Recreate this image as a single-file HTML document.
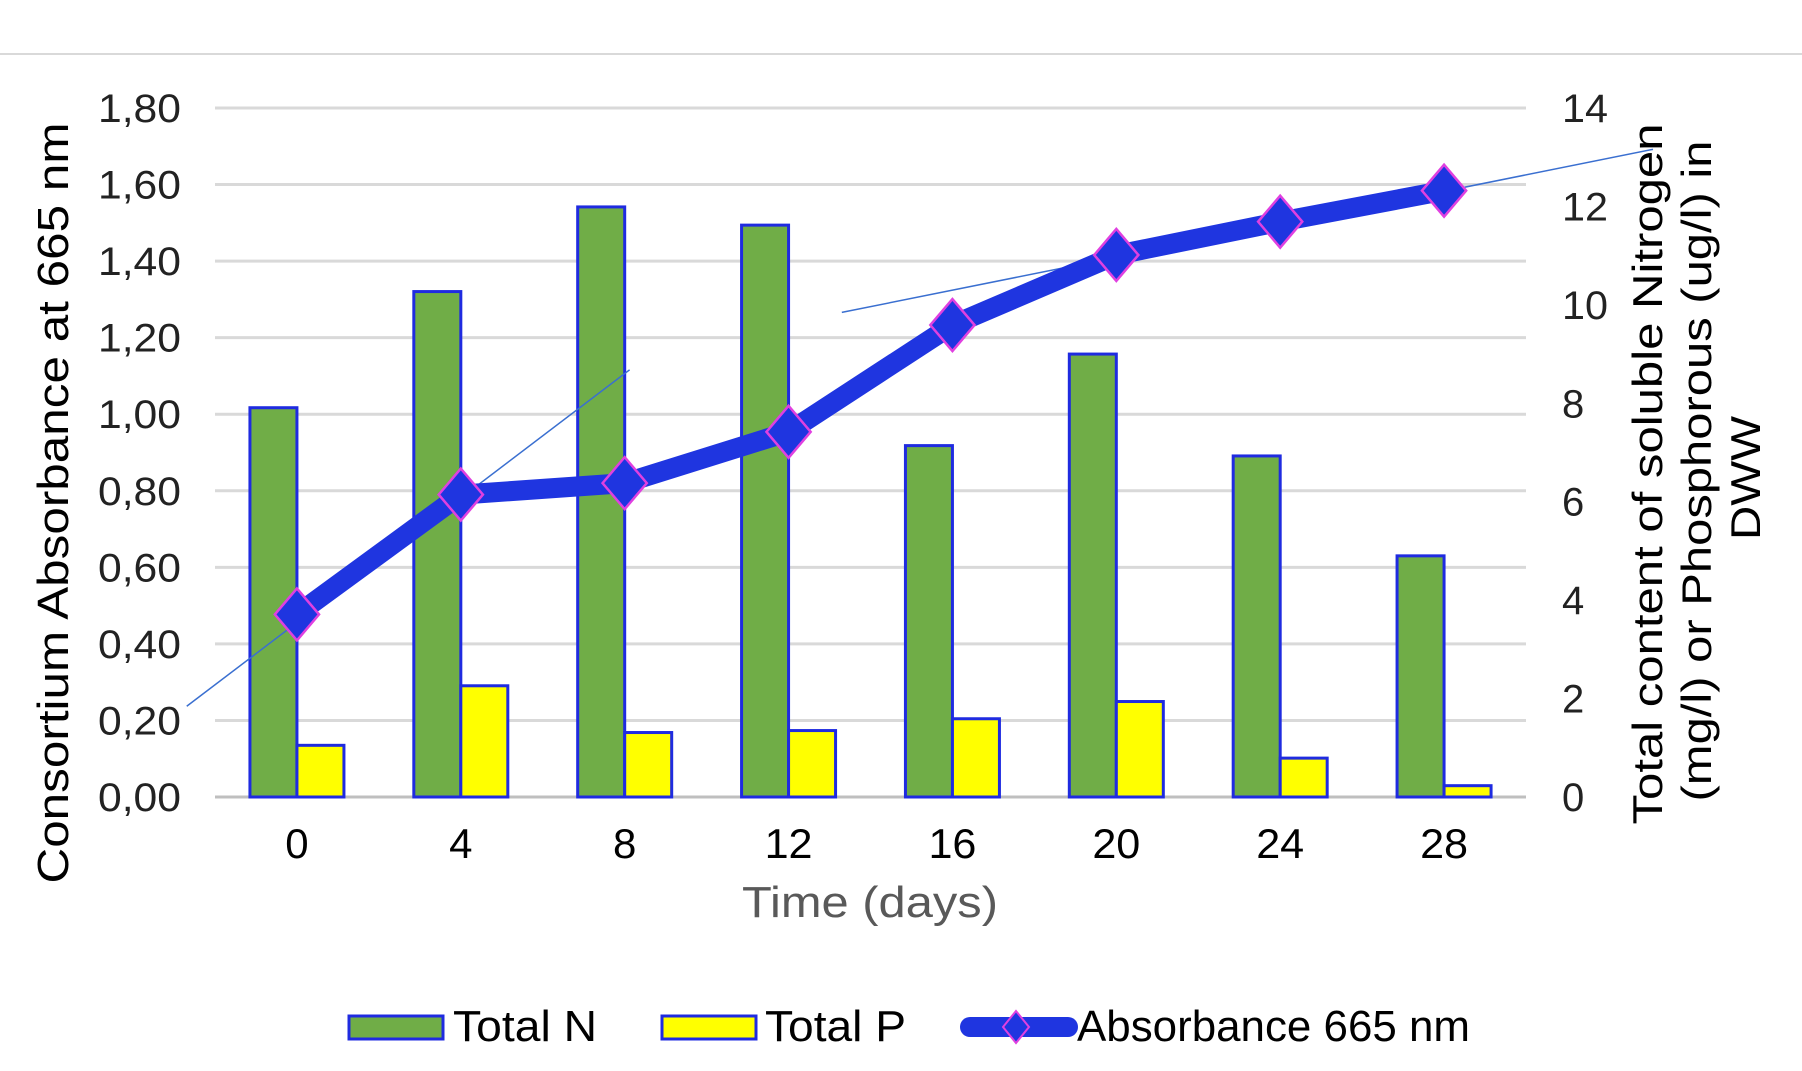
<!DOCTYPE html>
<html><head><meta charset="utf-8"><style>
html,body{margin:0;padding:0;background:#fff;}
svg{display:block;font-family:"Liberation Sans",Arial,sans-serif;}
</style></head><body>
<svg id="chart" width="1802" height="1071" viewBox="0 0 1802 1071" xmlns="http://www.w3.org/2000/svg">
<line x1="0" y1="54" x2="1802" y2="54" stroke="#d9d9d9" stroke-width="2"/>
<g id="grid"></g>
<g id="bars"></g>
<g id="trend"></g>
<g id="line"></g>
<g id="axes"></g>
<text transform="translate(68,503) rotate(-90)" text-anchor="middle" font-size="44" textLength="761" lengthAdjust="spacingAndGlyphs" fill="#000">Consortium Absorbance at 665 nm</text>
<g transform="translate(1662,474) rotate(-90)" font-size="42" fill="#000" text-anchor="middle">
<text x="0" y="0" textLength="701" lengthAdjust="spacingAndGlyphs">Total content of soluble Nitrogen</text>
<text x="3" y="49" textLength="661" lengthAdjust="spacingAndGlyphs">(mg/l) or Phosphorous (ug/l) in</text>
<text x="-4" y="98" textLength="124" lengthAdjust="spacingAndGlyphs">DWW</text>
</g>
<text x="870" y="917" text-anchor="middle" font-size="44" textLength="256" lengthAdjust="spacingAndGlyphs" fill="#595959">Time (days)</text>
<g>
<g><rect x="349" y="1016" width="94" height="23" fill="#70ad47" stroke="#1f2be0" stroke-width="3"/><text x="453" y="1041" font-size="44" textLength="144" lengthAdjust="spacingAndGlyphs">Total N</text></g>
<g><rect x="662" y="1016" width="94" height="23" fill="#ffff00" stroke="#1f2be0" stroke-width="3"/><text x="765" y="1041" font-size="44" textLength="141" lengthAdjust="spacingAndGlyphs">Total P</text></g>
<g><line x1="970" y1="1027" x2="1068" y2="1027" stroke="#1f35e0" stroke-width="20" stroke-linecap="round"/><polygon points="1016,1011 1029,1027 1016,1043 1003,1027" fill="#1f35e0" stroke="#e040e0" stroke-width="2"/><text x="1077" y="1041" font-size="44" textLength="393" lengthAdjust="spacingAndGlyphs">Absorbance 665 nm</text></g>
</g>
</svg>
<script>
const categories=[0,4,8,12,16,20,24,28];
const totalN=[7.91,10.27,11.99,11.62,7.14,9.0,6.93,4.9];
const totalP=[1.05,2.26,1.31,1.35,1.59,1.94,0.79,0.23];
const absorbance=[0.477,0.79,0.82,0.954,1.233,1.416,1.503,1.584];
const leftTicks=["0,00","0,20","0,40","0,60","0,80","1,00","1,20","1,40","1,60","1,80"];
const rightTicks=[0,2,4,6,8,10,12,14];
const trend1X=[-2.69,8.12], trend1Y=[0.237,1.116];
const trend2X=[13.3,33.1], trend2Y=[1.266,1.692];
const NS="http://www.w3.org/2000/svg";
const X0=215,X1=1526,Y0=797,YT=108;
const band=(X1-X0)/categories.length;
function xc(i){return X0+band*(i+0.5);}
function xd(d){return X0+band*(d/4+0.5);}
function yl(v){return Y0-(v/1.8)*(Y0-YT);}
function yr(v){return Y0-(v/14)*(Y0-YT);}
function mk(tag,attrs,parent){const e=document.createElementNS(NS,tag);for(const k in attrs)e.setAttribute(k,attrs[k]);parent.appendChild(e);return e;}
const grid=document.getElementById('grid'),axes=document.getElementById('axes'),bars=document.getElementById('bars'),trend=document.getElementById('trend'),line=document.getElementById('line');
leftTicks.forEach((t,i)=>{const v=i*0.2;const y=yl(v);
 const g=mk('line',{x1:X0,x2:X1,y1:y,y2:y,stroke:i==0?'#bfbfbf':'#d9d9d9','stroke-width':3},grid);
 
 
 const tx=mk('text',{x:181,y:y+14,'text-anchor':'end','font-size':40,textLength:83,lengthAdjust:'spacingAndGlyphs',fill:'#222'},axes);tx.textContent=t;
 
 
});
rightTicks.forEach(t=>{const y=yr(t);
 const tx=mk('text',{x:1562,y:y+14,'text-anchor':'start','font-size':40,fill:'#222'},axes);tx.textContent=t;
 if(String(t).length>1){tx.setAttribute('textLength',46);tx.setAttribute('lengthAdjust','spacingAndGlyphs');}
 
 
});
categories.forEach((c,i)=>{
 const tx=mk('text',{x:xc(i),y:858,'text-anchor':'middle','font-size':42,fill:'#000'},axes);tx.textContent=c;
 if(String(c).length>1){tx.setAttribute('textLength',48);tx.setAttribute('lengthAdjust','spacingAndGlyphs');}
 
 
 const bw=47;
 const bn=mk('rect',{x:xc(i)-bw,y:yr(totalN[i]),width:bw,height:Y0-yr(totalN[i]),fill:'#70ad47',stroke:'#1f2be0','stroke-width':3},bars);
 
 
 const bp=mk('rect',{x:xc(i),y:yr(totalP[i]),width:bw,height:Y0-yr(totalP[i]),fill:'#ffff00',stroke:'#1f2be0','stroke-width':3},bars);
 
 
});
[[trend1X,trend1Y],[trend2X,trend2Y]].forEach(([tx,ty])=>{
 const l=mk('line',{x1:xd(tx[0]),y1:yl(ty[0]),x2:xd(tx[1]),y2:yl(ty[1]),stroke:'#3a6fd0','stroke-width':1.5},trend);
 
 
});
const pts=absorbance.map((v,i)=>xc(i)+','+yl(v)).join(' ');
const pl=mk('polyline',{points:pts,fill:'none',stroke:'#1f35e0','stroke-width':20,'stroke-linejoin':'round','stroke-linecap':'round'},line);


absorbance.forEach((v,i)=>{const x=xc(i),y=yl(v),s=26;
 const p=mk('polygon',{points:`${x},${y-s} ${x+s*0.85},${y} ${x},${y+s} ${x-s*0.85},${y}`,fill:'#1f35e0',stroke:'#e040e0','stroke-width':2.5},line);
 
 
});
</script>
</body></html>
